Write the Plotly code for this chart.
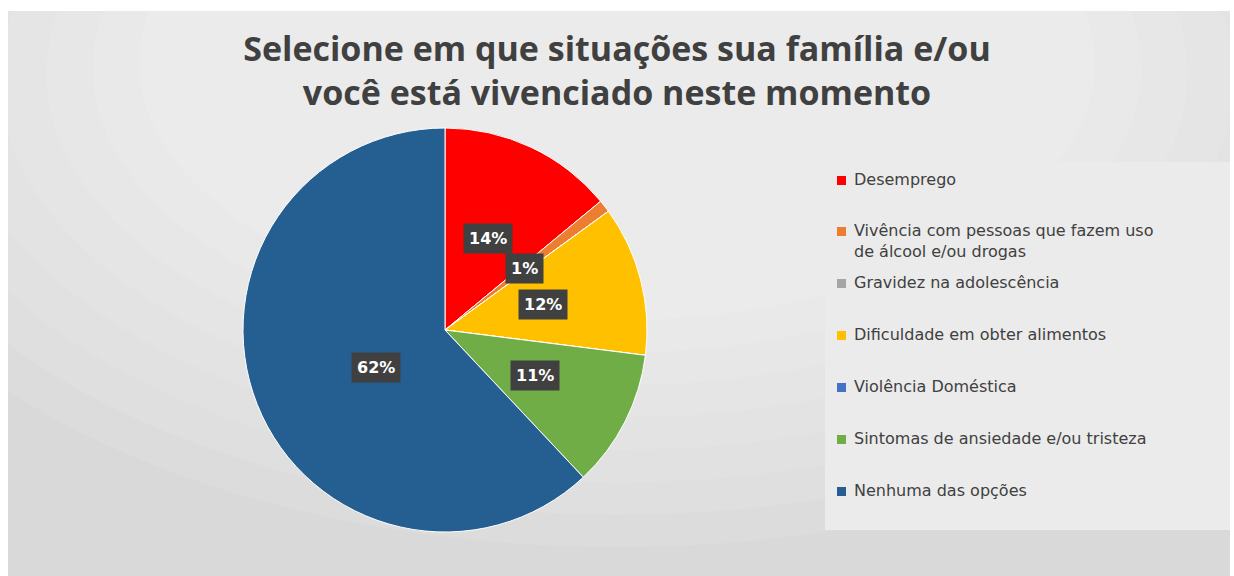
import math
import plotly.graph_objects as go

# dados do gráfico
categorias = [
    "Desemprego",
    "Vivência com pessoas que fazem uso<br>de álcool e/ou drogas",
    "Gravidez na adolescência",
    "Dificuldade em obter alimentos",
    "Violência Doméstica",
    "Sintomas de ansiedade e/ou tristeza",
    "Nenhuma das opções",
]
valores = [14, 1, 0, 12, 0, 11, 62]
cores = ["#FF0000", "#ED7D31", "#A5A5A5", "#FFC000", "#4472C4", "#70AD47", "#255E91"]
titulo = "Selecione em que situações sua família e/ou<br>você está vivenciado neste momento"

W, H = 1234, 576
cx, cy, R = 445, 330, 202  # centro e raio da pizza em pixels

fig = go.Figure()
fig.add_trace(go.Pie(
    labels=categorias, values=valores, sort=False, direction="clockwise", rotation=0,
    marker=dict(colors=cores, line=dict(color="white", width=1)),
    textinfo="none", hoverinfo="label+percent", showlegend=False,
    domain=dict(x=[(cx - R) / W, (cx + R) / W], y=[1 - (cy + R) / H, 1 - (cy - R) / H]),
))

shapes = [
    # fundo cinza
    dict(type="rect", xref="paper", yref="paper", x0=8 / W, x1=1230 / W, y0=0, y1=1 - 11 / H,
         fillcolor="#d9d9d9", line=dict(width=0), layer="below"),
]
# degradê suave (mais claro no alto, ao centro)
for i in range(8):
    k = i / 8
    shapes.append(dict(type="circle", xref="paper", yref="paper",
                       x0=-0.15 + 0.3 * k, x1=1.15 - 0.3 * k,
                       y0=0.05 + 0.45 * k, y1=1.6 - 0.3 * k,
                       fillcolor="rgba(255,255,255,0.09)", line=dict(width=0), layer="below"))
# caixa da legenda
shapes.append(dict(type="rect", xref="paper", yref="paper", x0=825 / W, x1=1230 / W,
                   y0=1 - 530 / H, y1=1 - 162 / H, fillcolor="#ebebeb", line=dict(width=0),
                   layer="below"))

annotations = []
# rótulos de porcentagem
total = sum(valores)
acum = 0
for v in valores:
    if v > 0:
        ang = 2 * math.pi * (acum + v / 2) / total
        px_ = cx + 0.5 * R * math.sin(ang)
        py_ = cy - 0.5 * R * math.cos(ang)
        annotations.append(dict(
            x=px_ / W, y=1 - py_ / H, xref="paper", yref="paper", showarrow=False,
            text="<b>%d%%</b>" % round(100 * v / total),
            font=dict(family="DejaVu Sans", size=16, color="white"),
            bgcolor="#404040", borderpad=5,
        ))
    acum += v

# legenda manual
y_leg = [181, 232, 284, 336, 388, 440, 492]
for cat, cor, yl in zip(categorias, cores, y_leg):
    shapes.append(dict(type="rect", xref="paper", yref="paper",
                       x0=837 / W, x1=846 / W, y0=1 - (yl + 4) / H, y1=1 - (yl - 5) / H,
                       fillcolor=cor, line=dict(width=0)))
    annotations.append(dict(
        x=852 / W, y=1 - (yl - 13) / H, xref="paper", yref="paper", showarrow=False,
        xanchor="left", yanchor="top", align="left", text=cat,
        font=dict(family="DejaVu Sans", size=16, color="#404040"),
    ))

fig.update_layout(
    width=W, height=H,
    margin=dict(l=0, r=0, t=0, b=0),
    paper_bgcolor="white",
    title=dict(text="<b>" + titulo + "</b>", x=0.5, xanchor="center", y=1 - 61 / H, yanchor="top",
               font=dict(family="Open Sans", size=34, color="#404040")),
    shapes=shapes,
    annotations=annotations,
)

fig.write_html("out.html", config={"displayModeBar": False},
               post_script="document.body.style.margin='0px';")
